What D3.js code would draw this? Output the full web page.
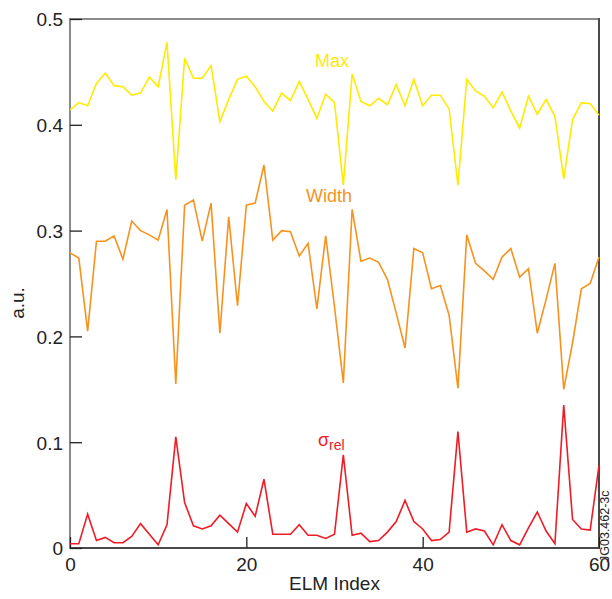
<!DOCTYPE html>
<html>
<head>
<meta charset="utf-8">
<script src="https://cdn.jsdelivr.net/npm/d3@7"></script>
<style>
  html, body { margin: 0; padding: 0; background: #fff; }
  svg { display: block; font-family: "Liberation Sans", Arial, Helvetica, sans-serif; }
</style>
</head>
<body>
<svg id="chart" width="612" height="599"></svg>
<script>
// ELM-by-ELM peak values, widths and relative spread (a.u.), index 0..60
const maxValues = [
  0.414, 0.421, 0.418, 0.439, 0.449, 0.437, 0.436, 0.428, 0.430, 0.445,
  0.436, 0.478, 0.348, 0.463, 0.444, 0.444, 0.456, 0.403, 0.424, 0.443,
  0.446, 0.436, 0.422, 0.413, 0.430, 0.423, 0.441, 0.424, 0.406, 0.429,
  0.421, 0.343, 0.448, 0.422, 0.418, 0.425, 0.419, 0.438, 0.418, 0.443,
  0.418, 0.428, 0.428, 0.415, 0.343, 0.443, 0.432, 0.427, 0.416, 0.431,
  0.413, 0.397, 0.427, 0.410, 0.424, 0.408, 0.349, 0.405, 0.421, 0.420,
  0.409
];
const widthValues = [
  0.279, 0.274, 0.205, 0.290, 0.290, 0.295, 0.273, 0.309, 0.300, 0.296,
  0.291, 0.320, 0.155, 0.324, 0.329, 0.290, 0.326, 0.203, 0.313, 0.229,
  0.324, 0.326, 0.362, 0.291, 0.300, 0.299, 0.276, 0.288, 0.226, 0.295,
  0.228, 0.156, 0.320, 0.271, 0.274, 0.270, 0.254, 0.222, 0.189, 0.283,
  0.279, 0.245, 0.248, 0.220, 0.151, 0.296, 0.269, 0.262, 0.254, 0.275,
  0.283, 0.256, 0.264, 0.203, 0.235, 0.269, 0.150, 0.194, 0.245, 0.250,
  0.275
];
const sigmaRelValues = [
  0.004, 0.004, 0.032, 0.007, 0.010, 0.005, 0.005, 0.011, 0.023, 0.013,
  0.003, 0.022, 0.105, 0.043, 0.021, 0.018, 0.021, 0.031, 0.023, 0.015,
  0.042, 0.030, 0.065, 0.013, 0.013, 0.013, 0.022, 0.012, 0.012, 0.009,
  0.013, 0.088, 0.012, 0.014, 0.006, 0.007, 0.015, 0.025, 0.045, 0.025,
  0.018, 0.007, 0.008, 0.015, 0.110, 0.015, 0.018, 0.016, 0.003, 0.022,
  0.007, 0.003, 0.019, 0.034, 0.016, 0.004, 0.135, 0.027, 0.018, 0.017,
  0.078
];
const xTicks = [0, 20, 40, 60];
const yTicks = [0, 0.1, 0.2, 0.3, 0.4, 0.5];

const svg = d3.select("#chart");
const margin = { left: 70, right: 13, top: 19, bottom: 51 };
const W = 612, H = 599;

const x = d3.scaleLinear().domain([0, 60]).range([margin.left, W - margin.right]);
const y = d3.scaleLinear().domain([0, 0.5]).range([H - margin.bottom, margin.top]);

// frame: left/top in mid grey, right/bottom darker
svg.append("line").attr("x1", x(0)).attr("x2", x(60)).attr("y1", y(0.5)).attr("y2", y(0.5))
  .attr("stroke", "#8a8a8a").attr("stroke-width", 2);
svg.append("line").attr("x1", x(0)).attr("x2", x(0)).attr("y1", y(0.5) - 1).attr("y2", y(0) + 1)
  .attr("stroke", "#8a8a8a").attr("stroke-width", 2);
svg.append("line").attr("x1", x(60)).attr("x2", x(60)).attr("y1", y(0.5) - 1).attr("y2", y(0) + 1)
  .attr("stroke", "#4a4a4a").attr("stroke-width", 2);
svg.append("line").attr("x1", x(0)).attr("x2", x(60)).attr("y1", y(0)).attr("y2", y(0))
  .attr("stroke", "#4a4a4a").attr("stroke-width", 2);

// y axis with inward ticks
const yAxis = d3.axisLeft(y).tickValues(yTicks).tickSize(-12).tickPadding(20)
  .tickFormat(d => d === 0 ? "0" : d3.format(".1f")(d));
const gy = svg.append("g").attr("transform", `translate(${x(0)},0)`).call(yAxis);
gy.select(".domain").remove();
gy.selectAll(".tick line").attr("stroke", "#222").attr("stroke-width", 1.3);
gy.selectAll(".tick text").attr("font-size", 19).attr("fill", "#222")
  .attr("x", -7).attr("dy", "0.36em");

// x axis with inward ticks
const xAxis = d3.axisBottom(x).tickValues(xTicks).tickSize(-11).tickPadding(8);
const gx = svg.append("g").attr("transform", `translate(0,${y(0)})`).call(xAxis);
gx.select(".domain").remove();
gx.selectAll(".tick line").attr("stroke", "#222").attr("stroke-width", 1.3);
gx.selectAll(".tick text").attr("font-size", 19).attr("fill", "#222").attr("y", 6).attr("dy", "0.9em");

// axis titles
svg.append("text").attr("x", (x(0) + x(60)) / 2).attr("y", 590).attr("text-anchor", "middle")
  .attr("font-size", 19).attr("fill", "#222").text("ELM Index");
svg.append("text").attr("transform", "translate(24,303) rotate(-90)").attr("text-anchor", "middle")
  .attr("font-size", 19).attr("fill", "#222").text("a.u.");

// figure id along the right edge
svg.append("text").attr("transform", "translate(609,562) rotate(-90)").attr("text-anchor", "start")
  .attr("font-size", 12.5).attr("fill", "#222").text("JG03.462-3c");

// series
const line = d3.line().x((d, i) => x(i)).y(d => y(d));
const series = [
  { values: maxValues, color: "#ffea00" },
  { values: widthValues, color: "#f7921e" },
  { values: sigmaRelValues, color: "#ee1c25" }
];
svg.selectAll("path.series").data(series).enter().append("path")
  .attr("class", "series")
  .attr("d", d => line(d.values))
  .attr("fill", "none")
  .attr("stroke", d => d.color)
  .attr("stroke-width", 1.6)
  .attr("stroke-linejoin", "miter");

// series labels
svg.append("text").attr("x", 315).attr("y", 67).attr("font-size", 18).attr("fill", "#ffea00").text("Max");
svg.append("text").attr("x", 306).attr("y", 202).attr("font-size", 18).attr("fill", "#f7921e").text("Width");
const sig = svg.append("text").attr("x", 318).attr("y", 446).attr("font-size", 18).attr("fill", "#ee1c25");
sig.append("tspan").text("σ");
sig.append("tspan").attr("font-size", 14).attr("dy", 4).text("rel");
</script>
</body>
</html>
